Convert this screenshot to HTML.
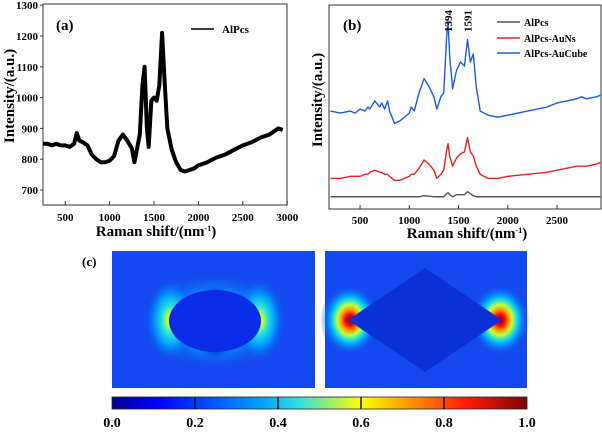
<!DOCTYPE html>
<html><head><meta charset="utf-8"><style>
body{margin:0;background:#fff;width:602px;height:429px;overflow:hidden}
text{font-family:"Liberation Serif",serif;font-weight:bold}
</style></head><body>
<svg id="fig" width="602" height="429" viewBox="0 0 602 429">
<defs>
<linearGradient id="jet" x1="0" x2="1" y1="0" y2="0">
<stop offset="0" stop-color="#00008f"/><stop offset="0.11" stop-color="#0000ff"/><stop offset="0.36" stop-color="#00a0ff"/><stop offset="0.45" stop-color="#30e0e0"/><stop offset="0.6" stop-color="#ffff00"/><stop offset="0.85" stop-color="#ff2000"/><stop offset="1" stop-color="#800000"/>
</linearGradient>
<radialGradient id="halo" cx="0.5" cy="0.5" r="0.5">
<stop offset="0" stop-color="#ffd000"/><stop offset="0.15" stop-color="#c0ff40"/><stop offset="0.35" stop-color="#20e0e0"/><stop offset="0.65" stop-color="#0090ff"/><stop offset="1" stop-color="#1448f0" stop-opacity="0"/>
</radialGradient>
<radialGradient id="glow" cx="0.5" cy="0.5" r="0.5">
<stop offset="0.5" stop-color="#00a8ff"/><stop offset="1" stop-color="#1448f0" stop-opacity="0"/>
</radialGradient>
<radialGradient id="hot" cx="0.5" cy="0.5" r="0.5">
<stop offset="0" stop-color="#800000"/><stop offset="0.15" stop-color="#ff0000"/><stop offset="0.3" stop-color="#ffa000"/><stop offset="0.42" stop-color="#c0ff40"/><stop offset="0.6" stop-color="#00d0ff"/><stop offset="1" stop-color="#1040f0" stop-opacity="0"/>
</radialGradient>
<radialGradient id="dark" cx="0.5" cy="0.5" r="0.5">
<stop offset="0" stop-color="#0010a0"/><stop offset="1" stop-color="#1040f0" stop-opacity="0"/>
</radialGradient>
</defs>
<g id="pa"></g>
<g id="pb"></g>
<g id="pc">
<text x="82" y="266" font-size="13">(c)</text>
<g>
<rect x="112" y="251" width="203" height="137" fill="#1448f0"/>
<ellipse cx="215" cy="321" rx="72" ry="50" fill="url(#glow)"/>
<ellipse cx="215" cy="297" rx="16" ry="12" fill="url(#dark)"/>
<ellipse cx="215" cy="347" rx="16" ry="12" fill="url(#dark)"/>
<ellipse cx="171" cy="320" rx="26" ry="42" fill="url(#halo)"/>
<ellipse cx="259" cy="320" rx="26" ry="42" fill="url(#halo)"/>
<ellipse cx="215" cy="321" rx="46" ry="31" fill="#0a2ce8"/>
</g>
<g>
<rect x="325" y="251" width="202" height="137" fill="#1448f0"/>
<ellipse cx="350" cy="320" rx="30" ry="36" fill="url(#hot)"/>
<ellipse cx="500" cy="320" rx="30" ry="36" fill="url(#hot)"/>
<polygon points="425,268 502,320 425,372 348,320" fill="#0c30d8"/>
</g>
<g>
<rect x="112" y="397" width="415" height="12" fill="url(#jet)" stroke="#222" stroke-width="0.8"/>
</g>
<g id="cbt"></g>
</g>
</svg>
<script>
// Panel (a) data
const aX=[250,300,350,400,450,500,550,600,630,660,700,750,800,850,900,950,1000,1050,1100,1150,1200,1250,1280,1300,1340,1370,1394,1420,1440,1470,1500,1530,1560,1591,1620,1650,1700,1750,1800,1850,1900,1950,2000,2100,2200,2300,2400,2500,2600,2700,2800,2900,2950];
const aY=[850,850,845,850,845,845,840,850,885,860,855,845,815,800,790,790,795,810,860,880,860,835,790,820,880,1040,1100,900,840,990,1000,990,1040,1210,1050,900,830,790,765,760,765,770,780,790,805,815,830,845,855,870,880,900,895];
const aYTicks=[700,800,900,1000,1100,1200,1300];
const aXTicks=[500,1000,1500,2000,2500,3000];
// Panel (b) data (arbitrary intensity units)
const bX=[200,300,400,450,500,550,580,600,650,700,720,750,780,800,850,900,950,1000,1020,1050,1100,1150,1200,1250,1280,1320,1350,1380,1394,1410,1440,1480,1520,1560,1591,1620,1650,1680,1720,1800,1900,2000,2200,2400,2500,2600,2700,2750,2800,2900,2950];
const bBlue=[48,47,48,47,49,48,50,49,53,50,52,49,53,48,42,43,45,47,50,48,57,64,60,55,49,55,57,85,92,75,59,68,72,70,83,72,76,60,48,46,45,46,48,50,52,53,54,55,54,55,56];
const bRed=[15,15,16,16,16,17,17,18,19,18,18,17,17,16,14,14,15,16,17,17,20,24,22,19,15,17,19,29,32,26,21,25,27,28,35,28,26,21,17,15,15,16,17,18,19,20,21,21,21,22,23];
const bBlack=[6,6,6,6,6,6,6,6,6,6,6,6,6,6,6,6,6,6,6,6,6,6.5,6.3,6,6,6,6,7.5,8,7,6,7,7,7,8.5,7.5,6.5,6,6,6,6,6,6,6,6,6,6,6,6,6,6];
const bXTicks=[500,1000,1500,2000,2500];
const cbTicks=[0.0,0.2,0.4,0.6,0.8,1.0];
const NS="http://www.w3.org/2000/svg";
function mk(p,t,a){const e=document.createElementNS(NS,t);for(const k in a)e.setAttribute(k,a[k]);p.appendChild(e);return e;}
// axes a
const ax=v=>43+(v-250)*0.0888, ay=v=>190-(v-700)*0.308;
const pa=document.getElementById('pa');
const fa=mk(pa,'rect',{x:43,y:4,width:244,height:201,fill:'none',stroke:'#333','stroke-width':1});


aYTicks.forEach(v=>{mk(pa,'line',{x1:43,x2:40,y1:ay(v),y2:ay(v),stroke:'#333'});
 const t=mk(pa,'text',{x:38,y:ay(v)+4,'font-size':11,'text-anchor':'end'});t.textContent=v;
 
 });
aXTicks.forEach(v=>{mk(pa,'line',{x1:ax(v),x2:ax(v),y1:205,y2:201,stroke:'#333'});
 const t=mk(pa,'text',{x:ax(v),y:221,'font-size':11,'text-anchor':'middle'});t.textContent=v;
 
 });
const la=mk(pa,'polyline',{points:aX.map((x,i)=>ax(x)+','+ay(aY[i])).join(' '),fill:'none',stroke:'#000','stroke-width':4,'stroke-linejoin':'round'});


mk(pa,'line',{x1:191,x2:214,y1:29,y2:29,stroke:'#000','stroke-width':1.5});
let t=mk(pa,'text',{x:222,y:33,'font-size':11});t.textContent='AlPcs';


t=mk(pa,'text',{x:56,y:30,'font-size':15,'font-weight':'normal'});t.textContent='(a)';


t=mk(pa,'text',{x:156,y:236,'font-size':15,'text-anchor':'middle'});t.innerHTML='Raman shift/(nm<tspan font-size="8" dy="-5">-1</tspan><tspan dy="5">)</tspan>';


t=mk(pa,'text',{x:0,y:0,'font-size':15,'text-anchor':'middle',transform:'translate(14,96) rotate(-90)'});t.textContent='Intensity/(a.u.)';


// axes b
const bx=v=>329+(v-185)*0.0985, by=v=>209-v*2.04;
const pb=document.getElementById('pb');
const fb=mk(pb,'rect',{x:329,y:5,width:272,height:204,fill:'none',stroke:'#333','stroke-width':1});


bXTicks.forEach(v=>{mk(pb,'line',{x1:bx(v),x2:bx(v),y1:209,y2:205,stroke:'#333'});
 const t=mk(pb,'text',{x:bx(v),y:224,'font-size':11,'text-anchor':'middle'});t.textContent=v;
 
 });
[[bBlack,'#555','series-alpcs'],[bRed,'#e82020','series-alpcs-auns'],[bBlue,'#1a5be0','series-alpcs-aucube']].forEach(([d,c,n])=>{
 const l=mk(pb,'polyline',{points:bX.map((x,i)=>bx(x)+','+by(d[i])).join(' '),fill:'none',stroke:c,'stroke-width':1.4,'stroke-linejoin':'round'});
 
 });
[['AlPcs','#555',26],['AlPcs-AuNs','#e82020',42],['AlPcs-AuCube','#1a5be0',57]].forEach(([s,c,y])=>{
 mk(pb,'line',{x1:497,x2:520,y1:y-4,y2:y-4,stroke:c,'stroke-width':1.5});
 const t=mk(pb,'text',{x:524,y:y,'font-size':10});t.textContent=s;
 
 });
t=mk(pb,'text',{x:343,y:30,'font-size':15,'font-weight':'normal'});t.textContent='(b)';


[[1394,'1394'],[1591,'1591']].forEach(([v,s])=>{const t=mk(pb,'text',{x:0,y:0,'font-size':11,transform:`translate(${bx(v)+4},32) rotate(-90)`});t.textContent=s;
 
 });
t=mk(pb,'text',{x:467,y:238,'font-size':15,'text-anchor':'middle'});t.innerHTML='Raman shift/(nm<tspan font-size="8" dy="-5">-1</tspan><tspan dy="5">)</tspan>';


t=mk(pb,'text',{x:0,y:0,'font-size':15,'text-anchor':'middle',transform:'translate(322,100) rotate(-90)'});t.textContent='Intensity/(a.u.)';


// colorbar ticks
const cb=document.getElementById('cbt');
const cx=v=>112+v*415;
cbTicks.forEach(v=>{if(v>0&&v<1)mk(cb,'line',{x1:cx(v),x2:cx(v),y1:397,y2:409,stroke:'#111','stroke-width':1.5});
 const t=mk(cb,'text',{x:cx(v),y:427,'font-size':14,'text-anchor':'middle'});t.textContent=v.toFixed(1);
 
 });
</script>
</body></html>
